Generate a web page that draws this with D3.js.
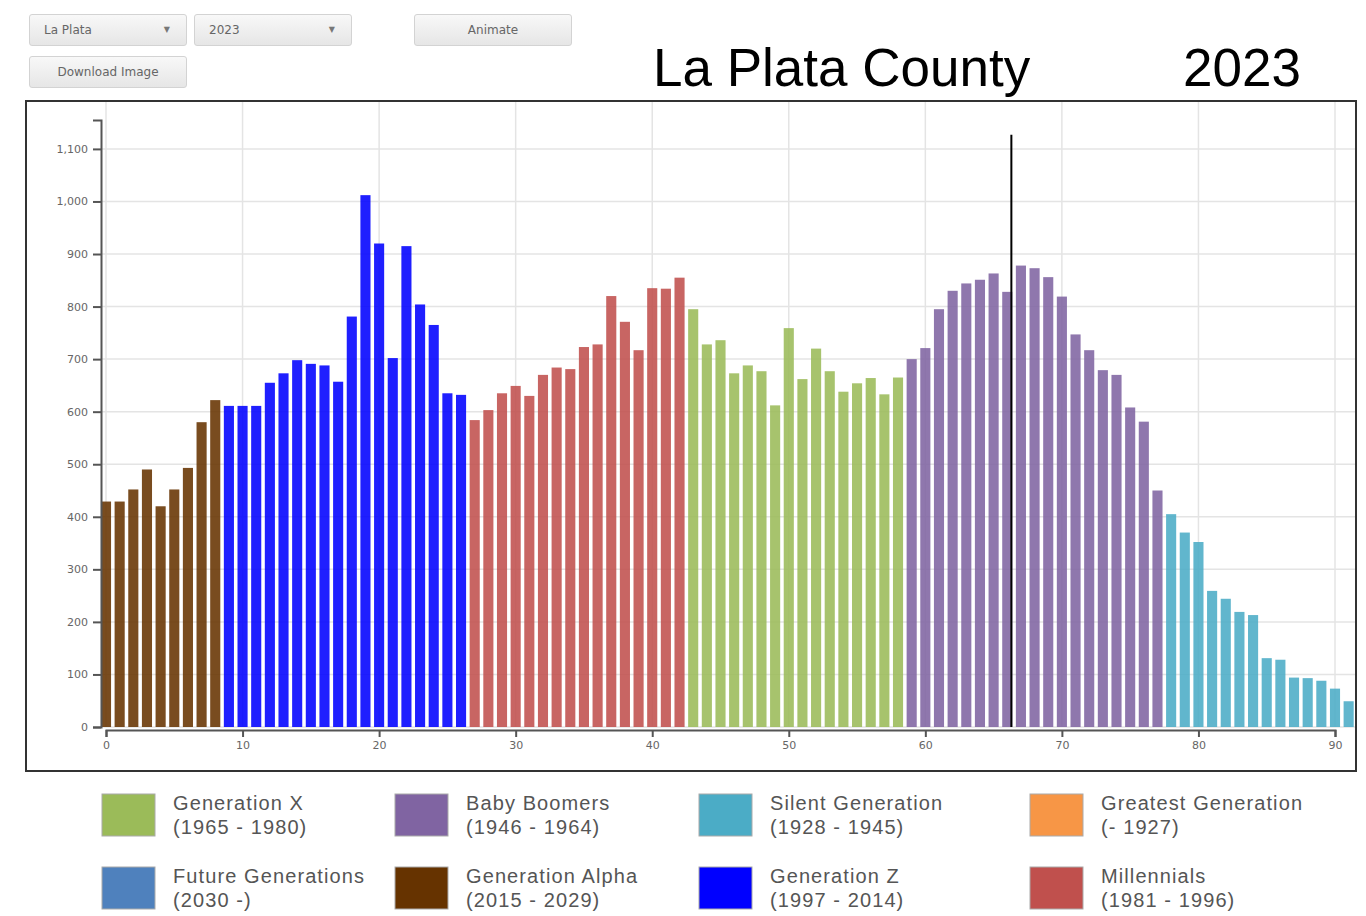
<!DOCTYPE html>
<html>
<head>
<meta charset="utf-8">
<script src="https://cdn.jsdelivr.net/npm/d3@7"></script>
<style>
  body { margin: 0; background: #fff; font-family: "Liberation Sans", Arial, sans-serif; }
  #wrap { position: relative; width: 1366px; height: 916px; }
  .ctl {
    position: absolute; box-sizing: border-box; height: 32px;
    border: 1px solid #d3d3d3; border-radius: 3px;
    background: linear-gradient(#f8f8f8, #e6e6e6);
    font-family: "DejaVu Sans", sans-serif; font-size: 12px; color: #666;
    line-height: 30px;
  }
  .ctl .arrow { position: absolute; right: 16px; top: 0; font-size: 8px; color: #777; }
  svg { position: absolute; left: 0; top: 0; }
</style>
</head>
<body>
<div id="wrap">
  <div class="ctl" style="left:29px;top:14px;width:158px;padding-left:14px;">La Plata<span class="arrow">&#9660;</span></div>
  <div class="ctl" style="left:194px;top:14px;width:158px;padding-left:14px;">2023<span class="arrow">&#9660;</span></div>
  <div class="ctl" style="left:414px;top:14px;width:158px;text-align:center;">Animate</div>
  <div class="ctl" style="left:29px;top:56px;width:158px;text-align:center;">Download Image</div>
</div>
<script>
// ---- data ----
const county = "La Plata County";
const year = 2023;

const ages = [0,1,2,3,4,5,6,7,8,9,10,11,12,13,14,15,16,17,18,19,20,21,22,23,24,25,26,27,28,29,
  30,31,32,33,34,35,36,37,38,39,40,41,42,43,44,45,46,47,48,49,50,51,52,53,54,55,56,57,58,59,
  60,61,62,63,64,65,66,67,68,69,70,71,72,73,74,75,76,77,78,79,80,81,82,83,84,85,86,87,88,89,90,91];

const population = [429,429,452,490,420,452,493,580,622,
  611,611,611,655,673,698,691,688,657,781,1012,920,702,915,804,765,635,632,
  584,603,635,649,630,670,684,681,723,728,820,771,717,835,834,855,
  795,728,736,673,688,677,612,759,662,720,677,638,654,664,633,665,
  700,721,795,830,844,851,863,828,878,873,856,819,747,717,679,670,608,581,450,
  405,370,352,259,244,219,213,131,128,94,93,88,73,49];

// generations, in legend order
const genNames  = ["Generation X", "Baby Boomers", "Silent Generation", "Greatest Generation",
                   "Future Generations", "Generation Alpha", "Generation Z", "Millennials"];
const genLabels = ["(1965 - 1980)", "(1946 - 1964)", "(1928 - 1945)", "(- 1927)",
                   "(2030 -)", "(2015 - 2029)", "(1997 - 2014)", "(1981 - 1996)"];
const genStart  = [1965, 1946, 1928, 0, 2030, 2015, 1997, 1981];
const genEnd    = [1980, 1964, 1945, 1927, 9999, 2029, 2014, 1996];
const genColors = ["#9bbb59", "#8064a2", "#4bacc6", "#f79646",
                   "#4f81bd", "#663300", "#0000ff", "#c0504d"];

const yTicks = [0,100,200,300,400,500,600,700,800,900,1000,1100];
const xTicks = [0,10,20,30,40,50,60,70,80,90];

// vertical marker line
const markerAge = 66.3;
const markerTop = 1127;

// ---- layout ----
const W = 1366, H = 916;
const svg = d3.select("#wrap").append("svg")
  .attr("width", W).attr("height", H);

// title
svg.append("text")
  .attr("x", 653).attr("y", 86)
  .style("font-family", "'Liberation Sans', Arial, sans-serif")
  .style("font-size", "53px")
  .attr("fill", "#000")
  .text(county);
svg.append("text")
  .attr("x", 1183).attr("y", 86)
  .style("font-family", "'Liberation Sans', Arial, sans-serif")
  .style("font-size", "53px")
  .attr("fill", "#000")
  .text(year);

// frame
const frame = { left: 26, top: 101, right: 1356, bottom: 771 };
svg.append("rect")
  .attr("x", frame.left).attr("y", frame.top)
  .attr("width", frame.right - frame.left)
  .attr("height", frame.bottom - frame.top)
  .attr("fill", "none")
  .attr("stroke", "#333")
  .attr("stroke-width", 2);

// scales
const x = d3.scaleLinear().domain([0, 90]).range([106, 1335]);
const y = d3.scaleLinear().domain([0, 1155]).range([727, 120]);
const step = x(1) - x(0);
const barW = step * 0.74;

// grid
const grid = svg.append("g");
grid.selectAll(".hg").data(yTicks).join("line")
  .attr("x1", 101).attr("x2", frame.right - 1)
  .attr("y1", d => y(d)).attr("y2", d => y(d))
  .attr("stroke", "#e4e4e4").attr("stroke-width", 1.5);
grid.selectAll(".vg").data(xTicks).join("line")
  .attr("x1", d => x(d)).attr("x2", d => x(d))
  .attr("y1", frame.top + 1).attr("y2", y(0))
  .attr("stroke", "#e4e4e4").attr("stroke-width", 1.5);

// color by birth year
function genColor(age) {
  const born = year - age;
  const i = genStart.findIndex((s, k) => born >= s && born <= genEnd[k]);
  return genColors[i];
}

// bars
svg.append("g").selectAll("rect")
  .data(ages)
  .join("rect")
  .attr("x", d => x(d) - barW / 2)
  .attr("width", barW)
  .attr("y", (d, i) => y(population[i]))
  .attr("height", (d, i) => y(0) - y(population[i]))
  .attr("fill", d => genColor(d))
  .attr("fill-opacity", 0.88);

// marker line
svg.append("line")
  .attr("x1", x(markerAge)).attr("x2", x(markerAge))
  .attr("y1", y(markerTop)).attr("y2", y(0))
  .attr("stroke", "#000").attr("stroke-width", 2);

// axes
const yAxis = svg.append("g")
  .attr("transform", "translate(101,0)")
  .call(d3.axisLeft(y).tickValues(yTicks).tickSize(8).tickPadding(5)
    .tickFormat(d3.format(",")));
const xAxis = svg.append("g")
  .attr("transform", "translate(0,730)")
  .call(d3.axisBottom(x).tickValues(xTicks).tickSize(7).tickPadding(4));

[yAxis, xAxis].forEach(g => {
  g.selectAll("path, line").attr("stroke", "#555").attr("stroke-width", 2);
  g.selectAll("text")
    .attr("fill", "#666")
    .style("font-family", "'DejaVu Sans', sans-serif")
    .style("font-size", "11px");
});

// legend
const colX = [102, 395, 699, 1030];
const rowY = [794, 867];
const legend = svg.append("g").selectAll("g")
  .data(genNames)
  .join("g")
  .attr("transform", (d, i) => `translate(${colX[i % 4]},${rowY[Math.floor(i / 4)]})`);

legend.append("rect")
  .attr("width", 53).attr("height", 42)
  .attr("fill", (d, i) => genColors[i])
  .attr("stroke", "#aaa").attr("stroke-width", 1);

legend.append("text")
  .attr("x", 71).attr("y", 16)
  .style("font-family", "'Liberation Sans', Arial, sans-serif")
  .style("font-size", "20px")
  .style("letter-spacing", "1.1px")
  .attr("fill", "#555")
  .text(d => d);

legend.append("text")
  .attr("x", 71).attr("y", 40)
  .style("font-family", "'Liberation Sans', Arial, sans-serif")
  .style("font-size", "20px")
  .style("letter-spacing", "1.1px")
  .attr("fill", "#555")
  .text((d, i) => genLabels[i]);
</script>
</body>
</html>
